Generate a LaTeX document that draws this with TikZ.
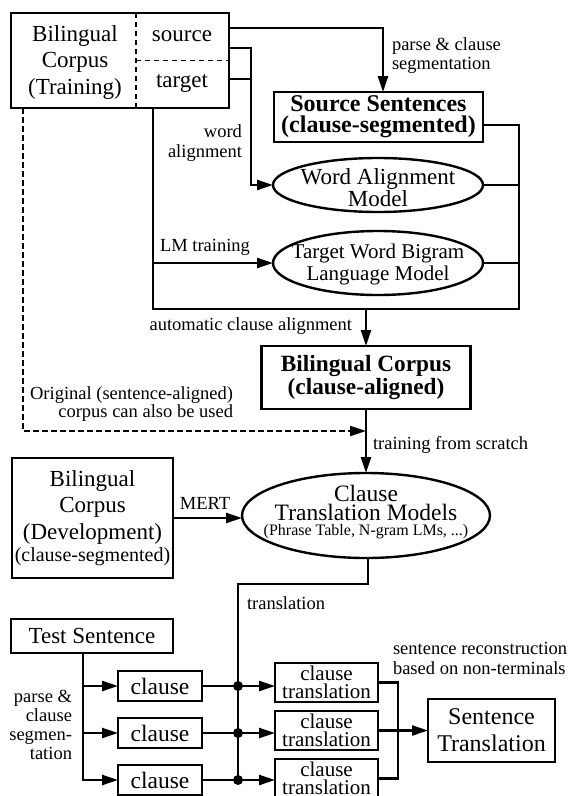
\documentclass[tikz,border=0pt]{standalone}
\usepackage{fontspec}
\setmainfont{Liberation Serif}
\usetikzlibrary{arrows.meta,shapes.geometric,calc}
\begin{document}
\begin{tikzpicture}[x=1pt,y=-1pt,
  every node/.style={inner sep=0pt, outer sep=0pt},
  box/.style={draw, line width=2.4pt, align=center},
  ell/.style={draw, ellipse, line width=2.4pt, inner sep=0pt},
  big/.style={font=\fontsize{23}{26.5}\selectfont, align=center},
  lab/.style={font=\fontsize{18.5}{19}\selectfont},
  ln/.style={line width=2.4pt},
  arr/.style={ln, -{Triangle[length=16pt,width=10pt]}},
  dsh/.style={line width=2pt, dash pattern=on 6pt off 3pt},
  thindsh/.style={line width=1.2pt, dash pattern=on 5pt off 4pt},
  dotn/.style={circle, fill, minimum size=10pt}
]
\useasboundingbox (0,0) rectangle (569,796);

% ---- top training corpus box ----
\node[box, minimum width=218pt, minimum height=95pt] (train) at (120,60.5) {};
\draw[thindsh] ([xshift=16pt]train.north) -- ([xshift=16pt]train.south);
\draw[thindsh] ([xshift=16pt]train.center) -- (train.east);
\node[big] (trtxt) at (75,62) {Bilingual\\Corpus\\(Training)};
\node[big] (src) at (182,36) {source};
\node[big] (tgt) at (182,84) {target};

% ---- source sentences ----
\node[box, font=\bfseries\fontsize{24}{21}\selectfont, minimum width=209pt, minimum height=50pt] (ss) at (378.5,117) {Source Sentences\\(clause-segmented)};

% ---- ellipses ----
\node[ell, minimum width=210pt, minimum height=54pt] (wam) at (378,185) {};
\node[font=\fontsize{23}{20}\selectfont, align=center] (wamtxt) at (378,188) {Word Alignment\\Model};
\node[ell, minimum width=210pt, minimum height=64pt] (lm) at (378,263) {};
\node[font=\fontsize{21}{22}\selectfont, align=center] (lmtxt) at (378,264) {Target Word Bigram\\Language Model};

% ---- clause-aligned corpus ----
\node[box, font=\bfseries\fontsize{23.3}{23}\selectfont, minimum width=209pt, minimum height=63pt] (bca) at (366,377.5) {Bilingual Corpus\\(clause-aligned)};

% ---- clause translation models ----
\node[ell, minimum width=248pt, minimum height=85pt] (ctm) at (366,515.5) {};
\node[font=\fontsize{23.5}{19.5}\selectfont, align=center] (ctmtxt) at (366,503) {Clause\\Translation Models};
\node[font=\fontsize{16}{18}\selectfont] (ctmsub) at (366,532) {(Phrase Table, N-gram LMs, ...)};

% ---- development corpus ----
\node[box, minimum width=161pt, minimum height=120pt] (dev) at (92.5,518) {};
\node[big] (devtxt) at (92.5,507) {Bilingual\\Corpus\\(Development)};
\node[font=\fontsize{20}{22}\selectfont] (devsub) at (92.5,557) {(clause-segmented)};

% ---- test sentence & clauses ----
\node[box, font=\fontsize{23}{26}\selectfont, minimum width=162pt, minimum height=34pt] (ts) at (92,636) {Test Sentence};
\node[box, font=\fontsize{23.5}{26}\selectfont, minimum width=84pt, minimum height=30pt] (c1) at (160,686) {clause};
\node[box, font=\fontsize{23.5}{26}\selectfont, minimum width=84pt, minimum height=30pt] (c2) at (160,733) {clause};
\node[box, font=\fontsize{23.5}{26}\selectfont, minimum width=84pt, minimum height=30pt] (c3) at (160,780) {clause};

\node[box, font=\fontsize{21}{18}\selectfont, minimum width=103pt, minimum height=39pt] (ct1) at (326.5,682.5) {clause\\translation};
\node[box, font=\fontsize{21}{18}\selectfont, minimum width=103pt, minimum height=39pt] (ct2) at (326.5,730.5) {clause\\translation};
\node[box, font=\fontsize{21}{18}\selectfont, minimum width=103pt, minimum height=39pt] (ct3) at (326.5,778.5) {clause\\translation};

\node[box, font=\fontsize{24}{27}\selectfont, minimum width=127pt, minimum height=63pt] (st) at (491.5,730.5) {Sentence\\Translation};

% ---- labels ----
\node[lab, align=left, anchor=west] (l1) at (392,56) {parse \& clause\\segmentation};
\node[lab, align=right, anchor=east, font=\fontsize{18.5}{20}\selectfont] (l2) at (242,143) {word\\alignment};
\node[lab, anchor=west] (l3) at (160,247) {LM training};
\node[lab, anchor=east] (l4) at (352,326) {automatic clause alignment};
\node[lab, align=right, anchor=east, font=\fontsize{18.5}{18}\selectfont] (l5) at (233,404) {Original (sentence-aligned)\\corpus can also be used};
\node[lab, anchor=west] (l6) at (373,445) {training from scratch};
\node[lab] (l7) at (205,503) {MERT};
\node[lab, anchor=west] (l8) at (247,603) {translation};
\node[lab, align=left, anchor=west, font=\fontsize{18.5}{20}\selectfont] (l9) at (393,658) {sentence reconstruction\\based on non-terminals};
\node[lab, align=right, anchor=east] (l10) at (72,725) {parse \&\\clause\\segmen-\\tation};

% ---- connectors: top part ----
\draw[arr] ([yshift=32.5pt]train.east) -| ([xshift=4.5pt]ss.north);
\draw[arr] ([yshift=12.5pt]train.east) -| ([xshift=-22pt]wam.west) -- (wam.west);
\draw[ln] ([yshift=-18.5pt]train.east) -- ++(22pt,0);

\coordinate (bl) at (153,309);
\coordinate (br) at (519,309);
\draw[ln] ([xshift=33pt]train.south) -- (bl) -- (br) |- ([yshift=-8pt]ss.east);
\draw[ln] (wam.east) -- (wam.east -| br);
\draw[ln] (lm.east) -- (lm.east -| br);
\draw[arr] (lm.west -| bl) -- (lm.west);
\draw[arr] (bca.north |- br) -- (bca.north);

% dashed bypass
\coordinate (dj) at (366,431);
\draw[dsh, -{Triangle[length=16pt,width=10pt]}] ([xshift=-97pt]train.south) |- (dj);

\draw[arr] (bca.south) -- (bca.south |- ctm.north);
\draw[arr] (dev.east) -- (dev.east -| ctm.west);

% ---- translation part ----
\coordinate (tt) at (238,584);
\coordinate (tb) at (238,780);
\draw[ln] ([xshift=2pt]ctm.south) |- (tt) -- (tb);

\coordinate (tsx) at ([xshift=-9pt]ts.south);
\draw[arr] (tsx) |- (c3.west);
\draw[arr] (c1.west -| tsx) -- (c1.west);
\draw[arr] (c2.west -| tsx) -- (c2.west);

\draw[arr] (c1.east) -- (c1.east -| ct1.west);
\draw[arr] (c2.east) -- (c2.east -| ct2.west);
\draw[arr] (c3.east) -- (c3.east -| ct3.west);
\node[dotn] (d1) at (c1.east -| tb) {};
\node[dotn] (d2) at (c2.east -| tb) {};
\node[dotn] (d3) at (c3.east -| tb) {};

\coordinate (rj) at (398,731);
\draw[ln] (ct1.east) -| (rj) |- (ct3.east);
\draw[arr] (ct2.east) -- (st.west);
\end{tikzpicture}
\end{document}
